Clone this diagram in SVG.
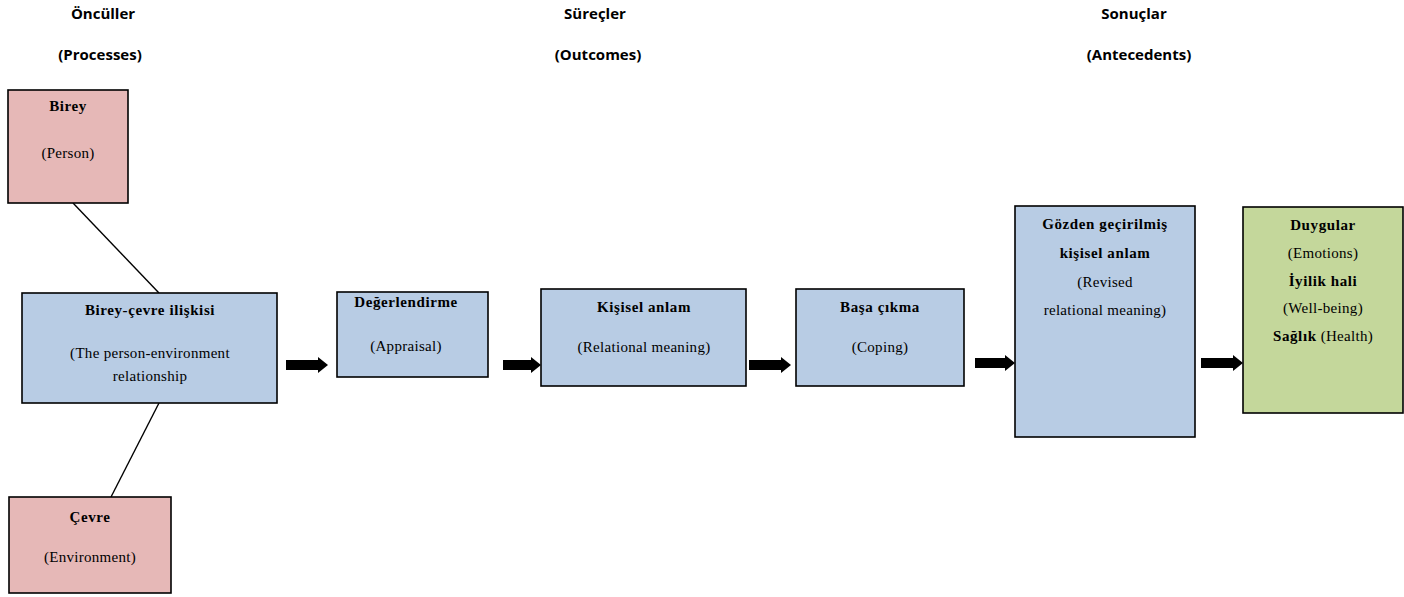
<svg xmlns="http://www.w3.org/2000/svg" width="1404" height="597" viewBox="0 0 1404 597">
<defs>
<style>
.hdr{font-family:"Open Sans","Liberation Sans",sans-serif;font-weight:bold;font-size:15px;fill:#000;text-anchor:middle}
.t{font-family:"Liberation Serif",serif;font-size:15px;fill:#000;text-anchor:middle;letter-spacing:0.3px}
.b{font-weight:bold;fill:#000;letter-spacing:0.6px}
.box{stroke:#000;stroke-width:1.6}
.pink{fill:#E6B8B7}
.blue{fill:#B8CCE4}
.green{fill:#C4D79B}
.line{stroke:#000;stroke-width:1.4;fill:none}
.arr{fill:#000}
</style>
</defs>
<rect width="1404" height="597" fill="#fff"/>
<g id="headers">
<text class="hdr" x="103" y="19">Öncüller</text>
<text class="hdr" x="100" y="60">(Processes)</text>
<text class="hdr" x="595" y="19">Süreçler</text>
<text class="hdr" x="598" y="60">(Outcomes)</text>
<text class="hdr" x="1134" y="19">Sonuçlar</text>
<text class="hdr" x="1139" y="60">(Antecedents)</text>
</g>
<g id="connectors">
<line class="line" x1="73" y1="203" x2="159" y2="293"/>
<line class="line" x1="159" y1="403" x2="111" y2="497"/>
<polygon class="arr" points="286,360 318,360 318,357 328,365 318,373 318,370 286,370"/>
<polygon class="arr" points="503,360 531,360 531,357 541,365 531,373 531,370 503,370"/>
<polygon class="arr" points="749,360 781,360 781,357 791,365 781,373 781,370 749,370"/>
<polygon class="arr" points="975,358 1005,358 1005,355 1015,363 1005,371 1005,368 975,368"/>
<polygon class="arr" points="1201,358 1233,358 1233,355 1243,363 1233,371 1233,368 1201,368"/>
</g>
<g id="birey">
<rect class="box pink" x="8" y="90" width="120" height="113"/>
<text class="t b" x="68" y="111">Birey</text>
<text class="t" x="68" y="158">(Person)</text>
</g>
<g id="birey-cevre">
<rect class="box blue" x="22" y="293" width="255" height="110"/>
<text class="t b" x="150" y="315">Birey-çevre ilişkisi</text>
<text class="t" x="150" y="358">(The person-environment</text>
<text class="t" x="150" y="381">relationship</text>
</g>
<g id="cevre">
<rect class="box pink" x="9" y="497" width="162" height="96"/>
<text class="t b" x="90" y="522">Çevre</text>
<text class="t" x="90" y="562">(Environment)</text>
</g>
<g id="degerlendirme">
<rect class="box blue" x="337" y="292" width="151" height="85"/>
<text class="t b" x="406" y="307">Değerlendirme</text>
<text class="t" x="406" y="351">(Appraisal)</text>
</g>
<g id="kisisel-anlam">
<rect class="box blue" x="541" y="289" width="205" height="97"/>
<text class="t b" x="644" y="312">Kişisel anlam</text>
<text class="t" x="644" y="352">(Relational meaning)</text>
</g>
<g id="basa-cikma">
<rect class="box blue" x="796" y="289" width="168" height="97"/>
<text class="t b" x="880" y="312">Başa çıkma</text>
<text class="t" x="880" y="352">(Coping)</text>
</g>
<g id="gozden">
<rect class="box blue" x="1015" y="206" width="180" height="231"/>
<text class="t b" x="1105" y="229">Gözden geçirilmiş</text>
<text class="t b" x="1105" y="258">kişisel anlam</text>
<text class="t" x="1105" y="287">(Revised</text>
<text class="t" x="1105" y="315">relational meaning)</text>
</g>
<g id="sonuclar">
<rect class="box green" x="1243" y="207" width="160" height="206"/>
<text class="t b" x="1323" y="230">Duygular</text>
<text class="t" x="1323" y="258">(Emotions)</text>
<text class="t b" x="1323" y="286">İyilik hali</text>
<text class="t" x="1323" y="313">(Well-being)</text>
<text class="t" x="1323" y="341"><tspan class="b">Sağlık</tspan> (Health)</text>
</g>
</svg>
